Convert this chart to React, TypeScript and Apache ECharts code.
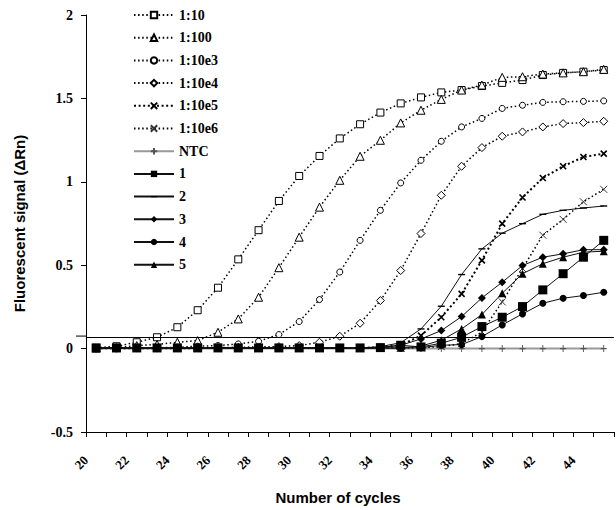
import React, { useEffect, useRef } from "react";
import * as echarts from "echarts";

const cycles = ["20","21","22","23","24","25","26","27","28","29","30","31","32","33","34","35","36","37","38","39","40","41","42","43","44","45"];
const tickLabels = ["20","21","22","23","24","25","26","27","28","29","30","31","32","33","34","35","36","37","38","39","40","41","42","43","44","45",""];

const d10 = [0.005,0.014,0.038,0.068,0.128,0.23,0.365,0.535,0.71,0.885,1.035,1.155,1.26,1.345,1.415,1.47,1.506,1.536,1.55,1.574,1.593,1.61,1.64,1.653,1.66,1.67];
const d100 = [0.003,0.006,0.018,0.025,0.038,0.048,0.098,0.178,0.308,0.485,0.668,0.848,1.009,1.153,1.249,1.353,1.429,1.494,1.55,1.58,1.626,1.63,1.646,1.653,1.66,1.674];
const d1e3 = [0.002,0.003,0.004,0.005,0.008,0.014,0.018,0.028,0.044,0.084,0.162,0.294,0.459,0.649,0.829,0.993,1.129,1.243,1.329,1.38,1.44,1.459,1.476,1.48,1.482,1.485];
const d1e4 = [0.002,0.002,0.003,0.003,0.004,0.005,0.006,0.008,0.01,0.012,0.018,0.038,0.074,0.152,0.288,0.468,0.69,0.919,1.093,1.205,1.273,1.299,1.329,1.349,1.355,1.363];
const d1e5 = [0.002,0.002,0.002,0.002,0.002,0.003,0.003,0.003,0.003,0.003,0.003,0.003,0.004,0.004,0.008,0.02,0.078,0.188,0.328,0.529,0.749,0.906,1.023,1.093,1.149,1.169];
const d1e6 = [0.002,0.002,0.002,0.002,0.002,0.002,0.002,0.002,0.002,0.002,0.002,0.002,0.003,0.003,0.003,0.004,0.005,0.012,0.03,0.1,0.28,0.48,0.68,0.775,0.88,0.955];
const ntc = [0,0,0,0,0,0,0,0,0,0,0,0,0,0,0,0,0,0,0,0,0,0,0,0,0,0];
const s1 = [0.004,0.004,0.004,0.004,0.004,0.004,0.004,0.004,0.004,0.004,0.004,0.004,0.004,0.004,0.006,0.02,0.01,0.032,0.068,0.132,0.188,0.252,0.352,0.449,0.548,0.649];
const s2 = [0.003,0.003,0.003,0.003,0.003,0.003,0.003,0.003,0.003,0.003,0.003,0.003,0.003,0.003,0.012,0.035,0.118,0.254,0.444,0.598,0.692,0.749,0.805,0.829,0.843,0.855];
const s3 = [0.003,0.003,0.003,0.003,0.003,0.003,0.003,0.003,0.003,0.003,0.003,0.003,0.003,0.003,0.008,0.02,0.058,0.108,0.192,0.304,0.398,0.498,0.548,0.568,0.593,0.593];
const s4 = [0.003,0.003,0.003,0.003,0.003,0.003,0.003,0.003,0.003,0.003,0.003,0.003,0.003,0.003,0.003,0.003,0.006,0.02,0.024,0.072,0.142,0.208,0.272,0.302,0.318,0.338];
const s5 = [0.003,0.003,0.003,0.003,0.003,0.003,0.003,0.003,0.003,0.003,0.003,0.003,0.003,0.003,0.003,0.005,0.015,0.05,0.118,0.204,0.332,0.449,0.509,0.548,0.578,0.584];
const THRESHOLD = 0.075;

const GRID_LEFT = 86;
const SERIF = "'Liberation Serif', 'Times New Roman', serif";
const SANS = "'Liberation Sans', Arial, sans-serif";

const X_PATH = "path://M0,0L10,10M10,0L0,10";
const PLUS_PATH = "path://M5,0L5,10M2,5L8,5";
const DASH_PATH = "path://M0,0L0,0M0,4L10,4L10,6L0,6ZM0,10L0,10";

function dotted(name: string, data: number[], symbol: string, size: number, width = 1.5) {
  return {
    name,
    type: "line",
    data,
    symbol,
    symbolSize: size,
    showSymbol: true,
    lineStyle: { color: "#000", width, type: [width, 2.6], cap: "butt" },
    itemStyle: { color: "#fff", borderColor: "#000", borderWidth: 1 },
    z: 3,
  };
}

function solid(name: string, data: number[], symbol: string, size: any, z = 4) {
  return {
    name,
    type: "line",
    data,
    symbol,
    symbolSize: size,
    lineStyle: { color: "#111", width: 1, type: "solid" },
    itemStyle: { color: "#000", borderColor: "#000", borderWidth: 0 },
    z,
  };
}

export default function App() {
  const ref = useRef<HTMLDivElement>(null);
  useEffect(() => {
    if (!ref.current) return;
    const chart = echarts.init(ref.current, null, { renderer: "svg" });
    const option: any = {
      animation: false,
      backgroundColor: "#fff",
      grid: { left: GRID_LEFT, width: 533, top: 15, bottom: 78 },
      legend: {
        orient: "vertical",
        left: 128,
        top: 3,
        itemWidth: 40,
        itemHeight: 8,
        itemGap: 8.7,
        textStyle: { fontFamily: SERIF, fontWeight: "bold", fontSize: 14, color: "#000" },
      },
      xAxis: [
        {
          type: "category",
          data: cycles,
          boundaryGap: true,
          position: "bottom",
          axisLine: { onZero: false, lineStyle: { color: "#000", width: 1 } },
          axisTick: { show: true, interval: 0, length: 5, lineStyle: { color: "#000" } },
          axisLabel: { show: false },
          splitLine: { show: false },
        },
        {
          type: "category",
          data: tickLabels,
          boundaryGap: false,
          position: "bottom",
          axisLine: { show: false, onZero: false },
          axisTick: { show: false },
          axisLabel: {
            interval: 1,
            rotate: 45,
            margin: 26,
            fontFamily: SERIF,
            fontWeight: "bold",
            fontSize: 13,
            color: "#000",
          },
          splitLine: { show: false },
        },
      ],
      yAxis: {
        type: "value",
        min: -0.5,
        max: 2,
        interval: 0.5,
        name: "Fluorescent signal (\u0394Rn)",
        nameLocation: "middle",
        nameGap: 59,
        nameTextStyle: { fontFamily: SANS, fontWeight: "bold", fontSize: 15, color: "#000" },
        axisLine: { show: true, lineStyle: { color: "#000", width: 1 } },
        axisTick: { show: true, length: 5, lineStyle: { color: "#000" } },
        axisLabel: { margin: 13, fontFamily: SERIF, fontWeight: "bold", fontSize: 14, color: "#000" },
        splitLine: { show: false },
      },
      graphic: [
        {
          type: "text",
          x: 338,
          y: 497,
          style: {
            text: "Number of cycles",
            font: `bold 15px ${SANS}`,
            fill: "#000",
            textAlign: "center",
            textVerticalAlign: "middle",
          },
        },
      ],
      series: [
        dotted("1:10", d10, "rect", 7),
        dotted("1:100", d100, "triangle", 8),
        dotted("1:10e3", d1e3, "circle", 6),
        dotted("1:10e4", d1e4, "diamond", 8),
        {
          ...dotted("1:10e5", d1e5, X_PATH, 6, 2),
          itemStyle: { color: "#000", borderColor: "#000", borderWidth: 1.6 },
        },
        {
          ...dotted("1:10e6", d1e6, X_PATH, 7, 1.5),
          itemStyle: { color: "#000", borderColor: "#333", borderWidth: 1 },
        },
        {
          name: "NTC",
          type: "line",
          data: ntc,
          symbol: PLUS_PATH,
          symbolSize: [6, 7],
          lineStyle: { color: "#999", width: 2 },
          itemStyle: { color: "#555", borderColor: "#555", borderWidth: 1 },
          z: 2,
          markLine: {
            silent: true,
            symbol: "none",
            label: { show: false },
            lineStyle: { color: "#000", width: 1, type: "solid" },
            data: [{ yAxis: THRESHOLD }],
          },
        },
        solid("1", s1, "rect", 9, 5),
        solid("2", s2, DASH_PATH, 7),
        solid("3", s3, "diamond", 8),
        solid("4", s4, "circle", 7),
        solid("5", s5, "triangle", 8),
      ],
    };
    chart.setOption(option);
    const py = chart.convertToPixel({ yAxisIndex: 0 }, THRESHOLD) as number;
    chart.setOption({
      graphic: [
        option.graphic[0],
        {
          type: "line",
          shape: { x1: GRID_LEFT - 10, y1: py, x2: GRID_LEFT, y2: py },
          style: { stroke: "#000", lineWidth: 1 },
        },
      ],
    });
    return () => chart.dispose();
  }, []);
  return (
    <div
      ref={ref}
      style={{ position: "fixed", left: 0, top: 0, width: 616, height: 510, background: "#fff" }}
    />
  );
}
